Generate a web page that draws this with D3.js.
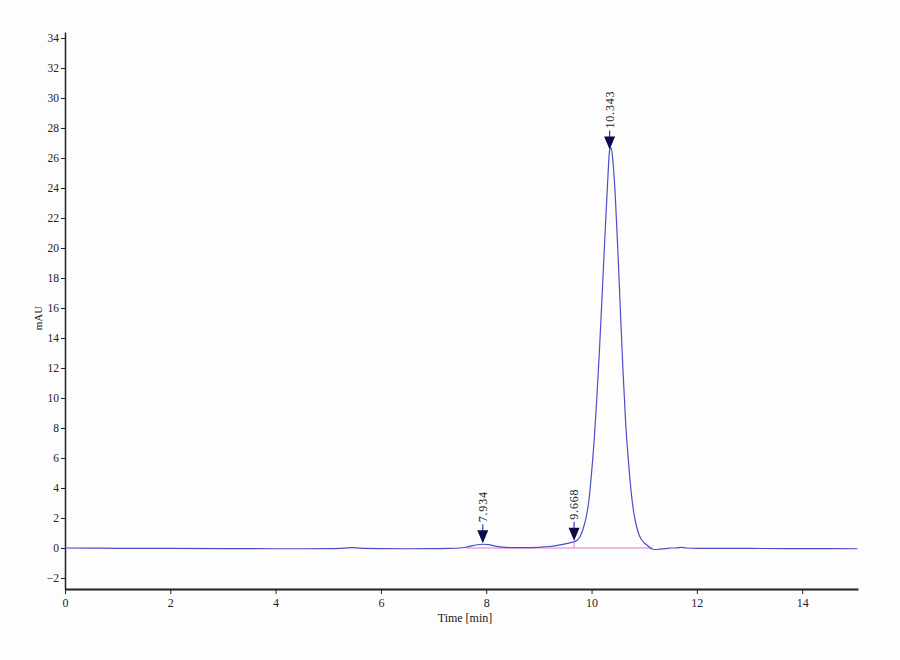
<!DOCTYPE html>
<html>
<head>
<meta charset="utf-8">
<script src="https://cdn.jsdelivr.net/npm/d3@7"></script>
<style>
  body { margin: 0; background: #fff; }
  text { font-family: "Liberation Serif", "DejaVu Serif", serif; fill: #222; }
  .axis path, .axis line { stroke: #222; }
</style>
</head>
<body>
<div id="chart"></div>
<script>
// chromatogram trace
var times = [0, 0.5, 1, 2, 3, 4, 4.5, 5, 5.3, 5.45, 5.6, 6, 6.5, 7, 7.3, 7.5, 7.6, 7.7, 7.8, 7.934, 8.05, 8.15, 8.3, 8.5, 8.8, 9.0, 9.2, 9.35, 9.5, 9.6, 9.668,
  9.75, 9.8, 9.85, 9.9, 9.95, 10.0, 10.05, 10.1, 10.15, 10.2, 10.25, 10.3, 10.343, 10.37, 10.4, 10.45, 10.5, 10.55, 10.6, 10.65, 10.7,
  10.75, 10.8, 10.85, 10.9, 10.95, 11.0, 11.05, 11.1, 11.15, 11.2, 11.3, 11.4, 11.5, 11.6, 11.7, 11.8, 12.0, 12.5, 13, 14, 15.05];
var mau = [0, -0.01, -0.02, -0.03, -0.04, -0.05, -0.05, -0.04, -0.01, 0.03, -0.01, -0.04, -0.05, -0.04, -0.03, 0, 0.05, 0.12, 0.2, 0.25, 0.22, 0.14, 0.06, 0.02, 0.02, 0.05, 0.1, 0.18, 0.28, 0.36, 0.42,
  0.6, 0.9, 1.4, 2.1, 3.2, 5.0, 7.2, 10.0, 13.2, 16.8, 20.5, 24.0, 26.5, 26.7, 26.0, 23.5, 19.8, 15.6, 11.6, 8.2, 5.8,
  3.8, 2.4, 1.5, 0.9, 0.55, 0.35, 0.2, 0.05, -0.07, -0.1, -0.07, -0.04, 0, 0, 0.04, 0, -0.02, -0.02, -0.03, -0.04, -0.05];

var peakTimes = [7.934, 9.668, 10.343];
var peakHeights = [0.25, 0.42, 26.5];
var peakLabels = ["7.934", "9.668", "10.343"];

var baselineRange = [7.62, 11.15];
var xTicks = [0, 2, 4, 6, 8, 10, 12, 14];
var yTicks = d3.range(-2, 35, 2);

var width = 900, height = 660;

var svg = d3.select("#chart").append("svg")
  .attr("width", width)
  .attr("height", height);

svg.append("rect").attr("width", width).attr("height", height).attr("fill", "#fdfdfd");

var x = d3.scaleLinear().domain([0, 15.06]).range([65, 858]);
var y = d3.scaleLinear().domain([-2.733, 34.4]).range([589, 32]);

// axes
var xAxis = svg.append("g").attr("class", "axis")
  .attr("transform", "translate(0,589)")
  .call(d3.axisBottom(x).tickValues(xTicks).tickSize(5).tickSizeOuter(0).tickPadding(4));
xAxis.select(".domain").attr("stroke-width", 2);
xAxis.selectAll("text").attr("font-size", 12);

var yAxis = svg.append("g").attr("class", "axis")
  .attr("transform", "translate(65,0)")
  .call(d3.axisLeft(y).tickValues(yTicks).tickSize(4).tickSizeOuter(0).tickPadding(2));
yAxis.select(".domain").attr("stroke-width", 1.5);
yAxis.selectAll("text").attr("font-size", 11.5);

svg.append("text")
  .attr("x", 465).attr("y", 622)
  .attr("text-anchor", "middle").attr("font-size", 12)
  .text("Time [min]");

svg.append("text")
  .attr("transform", "translate(42,318) rotate(-90)")
  .attr("text-anchor", "middle").attr("font-size", 11)
  .text("mAU");

// integration baseline
svg.append("line")
  .attr("x1", x(baselineRange[0])).attr("x2", x(baselineRange[1]))
  .attr("y1", y(0)).attr("y2", y(0))
  .attr("stroke", "#e27ac8").attr("stroke-width", 1.2);

svg.append("line")
  .attr("x1", x(peakTimes[1])).attr("x2", x(peakTimes[1]))
  .attr("y1", y(0)).attr("y2", y(peakHeights[1]))
  .attr("stroke", "#e27ac8").attr("stroke-width", 1);

// trace
var line = d3.line()
  .x(function(d, i) { return x(times[i]); })
  .y(function(d) { return y(d); })
  .curve(d3.curveMonotoneX);

svg.append("path")
  .attr("d", line(mau))
  .attr("fill", "none")
  .attr("stroke", "#4c4cc8")
  .attr("stroke-width", 1.2);

// peak markers
var marks = svg.append("g").selectAll("g")
  .data(peakTimes)
  .enter().append("g")
  .attr("transform", function(d, i) { return "translate(" + x(d) + "," + (y(peakHeights[i]) - 1) + ")"; });

marks.append("line")
  .attr("x1", 0).attr("x2", 0).attr("y1", -12).attr("y2", -19)
  .attr("stroke", "#3a3ab0").attr("stroke-width", 1.2);

marks.append("path")
  .attr("d", "M0,0L-5.5,-13L5.5,-13Z")
  .attr("fill", "#0b0b4a");

marks.append("text")
  .attr("transform", "translate(4,-21) rotate(-90)")
  .attr("font-size", 12)
  .attr("letter-spacing", 0.8)
  .text(function(d, i) { return peakLabels[i]; });
</script>
</body>
</html>
